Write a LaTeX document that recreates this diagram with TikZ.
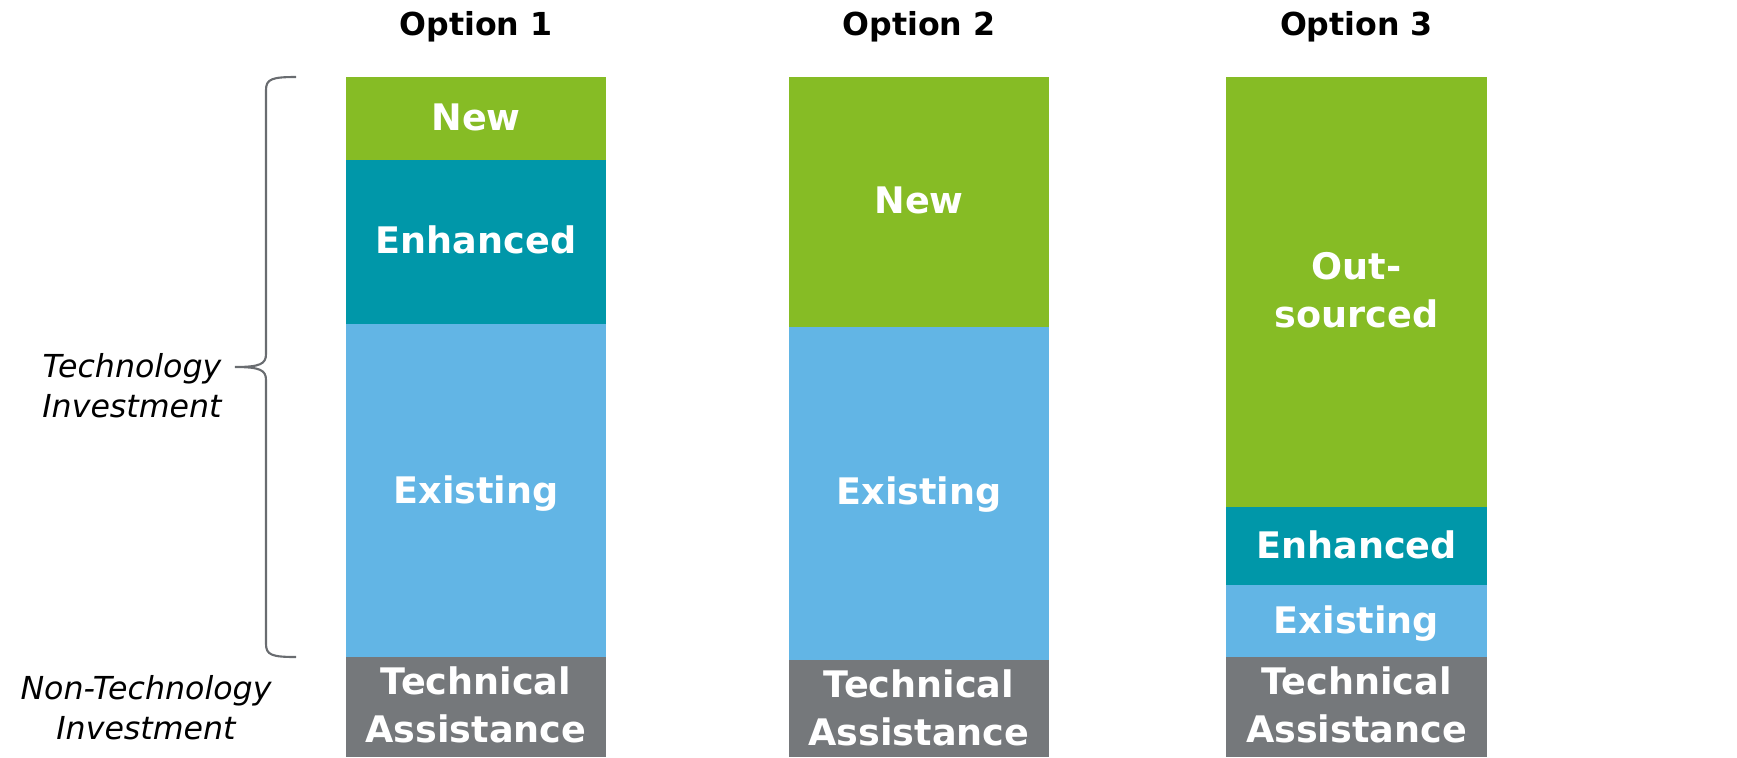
\documentclass[tikz,border=0pt]{standalone}
\usepackage{fontspec}
\setmainfont{DejaVu Sans}
\usepackage{xcolor}
\usepackage{tikz}
\usetikzlibrary{calc}

\definecolor{newgreen}{RGB}{134,188,37}
\definecolor{enhteal}{RGB}{0,151,169}
\definecolor{exiblue}{RGB}{98,181,229}
\definecolor{tagrey}{RGB}{117,120,123}
\definecolor{bracegrey}{RGB}{105,108,112}

\begin{document}
\begin{tikzpicture}[x=0.01cm,y=-0.01cm]
            \tikzstyle{every node}+=[inner sep=0pt]
            \tikzstyle{seglabel}=[text=white,font=\fontsize{10.4}{13.6}\selectfont\bfseries,align=center]
            \tikzstyle{oneline}=[text depth=0pt]
            \tikzstyle{optlabel}=[font=\fontsize{9}{11}\selectfont\bfseries,text depth=0pt]
            \tikzstyle{sidelabel}=[font=\fontsize{9}{11.4}\selectfont\itshape,align=center]
            \useasboundingbox (0,0) rectangle (1737,757);
            % titles
            \draw (476,23) node [optlabel] (opt1) {Option 1};
            \draw (919,23) node [optlabel] (opt2) {Option 2};
            \draw (1356.5,23) node [optlabel] (opt3) {Option 3};
            % option 1
            \fill [newgreen] (346,77) rectangle (606,160);
            \draw (476,117) node [seglabel,oneline] (onenew) {New};
            \fill [enhteal] (346,160) rectangle (606,324);
            \draw (476,240) node [seglabel,oneline] (oneenh) {Enhanced};
            \fill [exiblue] (346,324) rectangle (606,657);
            \draw (476,490) node [seglabel,oneline] (oneexi) {Existing};
            \fill [tagrey] (346,657) rectangle (606,757);
            \draw (476,705) node [seglabel] (oneta) {Technical\\Assistance};
            % option 2
            \fill [newgreen] (789,77) rectangle (1049,327);
            \draw (919,200) node [seglabel,oneline] (twonew) {New};
            \fill [exiblue] (789,327) rectangle (1049,660);
            \draw (919,491) node [seglabel,oneline] (twoexi) {Existing};
            \fill [tagrey] (789,660) rectangle (1049,757);
            \draw (919,708) node [seglabel] (twota) {Technical\\Assistance};
            % option 3
            \fill [newgreen] (1226,77) rectangle (1487,507);
            \draw (1356.5,290) node [seglabel] (threeout) {Out-\\sourced};
            \fill [enhteal] (1226,507) rectangle (1487,585);
            \draw (1356.5,545) node [seglabel,oneline] (threeenh) {Enhanced};
            \fill [exiblue] (1226,585) rectangle (1487,657);
            \draw (1356.5,620) node [seglabel,oneline] (threeexi) {Existing};
            \fill [tagrey] (1226,657) rectangle (1487,757);
            \draw (1356.5,705) node [seglabel] (threeta) {Technical\\Assistance};
            % brace and side labels
            \coordinate (bracetop) at (296,77);
            \coordinate (bracetip) at (235,367);
            \coordinate (bracebot) at (296,657);
            \draw [bracegrey,line width=0.6pt] (bracetop) .. controls (272,77) and (266,79) .. (266,90) -- (266,354) .. controls (266,364) and (260,367) .. (bracetip) .. controls (260,367) and (266,370) .. (266,380) -- (266,644) .. controls (266,655) and (272,657) .. (bracebot);
            \draw (132,386) node [sidelabel] (techinv) {Technology\\Investment};
            \draw (146,708) node [sidelabel] (nontechinv) {Non-Technology\\Investment};
\end{tikzpicture}
\end{document}
